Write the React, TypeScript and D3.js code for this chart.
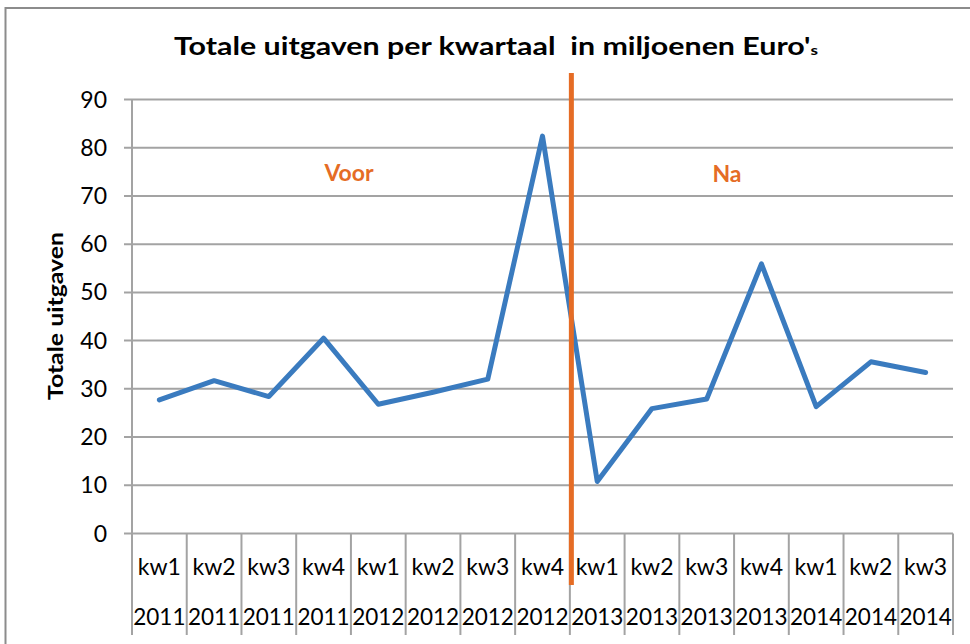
import * as d3 from 'd3';

const quarters = ['kw1', 'kw2', 'kw3', 'kw4', 'kw1', 'kw2', 'kw3', 'kw4', 'kw1', 'kw2', 'kw3', 'kw4', 'kw1', 'kw2', 'kw3'];
const years = ['2011', '2011', '2011', '2011', '2012', '2012', '2012', '2012', '2013', '2013', '2013', '2013', '2014', '2014', '2014'];
const spending = [27.7, 31.7, 28.4, 40.5, 26.8, 29.3, 32.0, 82.4, 10.8, 25.9, 27.9, 55.9, 26.3, 35.6, 33.4];
const yTicks = [0, 10, 20, 30, 40, 50, 60, 70, 80, 90];
const splitIndex = 8; // "Na" starts at kw1 2013

const W = 970;
const H = 644;
const left = 132;
const right = 953;
const top = 99.5;
const bottom = 533.5;
const axisBottom = 635;
const font = 'Lato, "Open Sans", sans-serif';
const orange = '#E56C25';
const blue = '#3A7BBF';
const grid = '#A3A3A3';

export default function App() {
  const idx = quarters.map((_, i) => i);
  const x = d3.scaleBand<number>().domain(idx).range([left, right]).padding(0);
  const y = d3.scaleLinear().domain([0, 90]).range([bottom, top]);

  const line = d3
    .line<number>()
    .x((_, i) => (x(i) as number) + x.bandwidth() / 2)
    .y((d) => y(d));

  const bounds = [...idx.map((i) => x(i) as number), right];
  const splitX = (x(splitIndex) as number) + 1.5;

  return (
    <svg width={W} height={H} style={{ position: 'absolute', left: 0, top: 0, background: '#fff' }}>
      <rect x={5.5} y={8} width={W + 20} height={H + 20} fill="#fff" stroke="#8c8c8c" strokeWidth={2} />

      <text
        x={174}
        y={55}
        textLength={644}
        lengthAdjust="spacingAndGlyphs"
        fontFamily={font}
        fontWeight="bold"
        fontSize={25}
        fill="#000"
      >
        Totale uitgaven per kwartaal{'\u00a0\u00a0'}in miljoenen Euro'
        <tspan fontSize={14}>s</tspan>
      </text>

      {/* gridlines + y ticks */}
      {yTicks.map((t) => (
        <g key={t}>
          <line x1={left - 8} x2={right} y1={y(t)} y2={y(t)} stroke={grid} strokeWidth={2} />
          <text
            x={107}
            y={y(t) + 8}
            textAnchor="end"
            fontFamily={font}
            fontSize={23}
            fill="#000"
          >
            {t}
          </text>
        </g>
      ))}

      {/* y axis line */}
      <line x1={left} x2={left} y1={top} y2={bottom} stroke={grid} strokeWidth={2} />

      {/* category separators */}
      {bounds.map((bx, i) => (
        <line key={i} x1={bx} x2={bx} y1={bottom} y2={axisBottom} stroke={grid} strokeWidth={2} />
      ))}

      {quarters.map((q, i) => (
        <text
          key={'q' + i}
          x={(x(i) as number) + x.bandwidth() / 2}
          y={575}
          textAnchor="middle"
          fontFamily={font}
          fontSize={23}
          fill="#000"
        >
          {q}
        </text>
      ))}
      {years.map((yr, i) => (
        <text
          key={'y' + i}
          x={(x(i) as number) + x.bandwidth() / 2}
          y={625}
          textAnchor="middle"
          fontFamily={font}
          fontSize={22.5}
          fill="#000"
        >
          {yr}
        </text>
      ))}

      <text
        transform={`translate(63,316) rotate(-90)`}
        textAnchor="middle"
        textLength={168}
        lengthAdjust="spacingAndGlyphs"
        fontFamily={font}
        fontWeight="bold"
        fontSize={21}
        fill="#000"
      >
        Totale uitgaven
      </text>

      <path d={line(spending) ?? ''} fill="none" stroke={blue} strokeWidth={5} strokeLinejoin="round" strokeLinecap="round" />

      <line x1={splitX} x2={splitX} y1={73} y2={585} stroke={orange} strokeWidth={5} />

      <text x={349} y={181} textAnchor="middle" fontFamily={font} fontWeight="bold" fontSize={23} fill={orange}>
        Voor
      </text>
      <text x={727} y={182} textAnchor="middle" fontFamily={font} fontWeight="bold" fontSize={23} fill={orange}>
        Na
      </text>
    </svg>
  );
}
